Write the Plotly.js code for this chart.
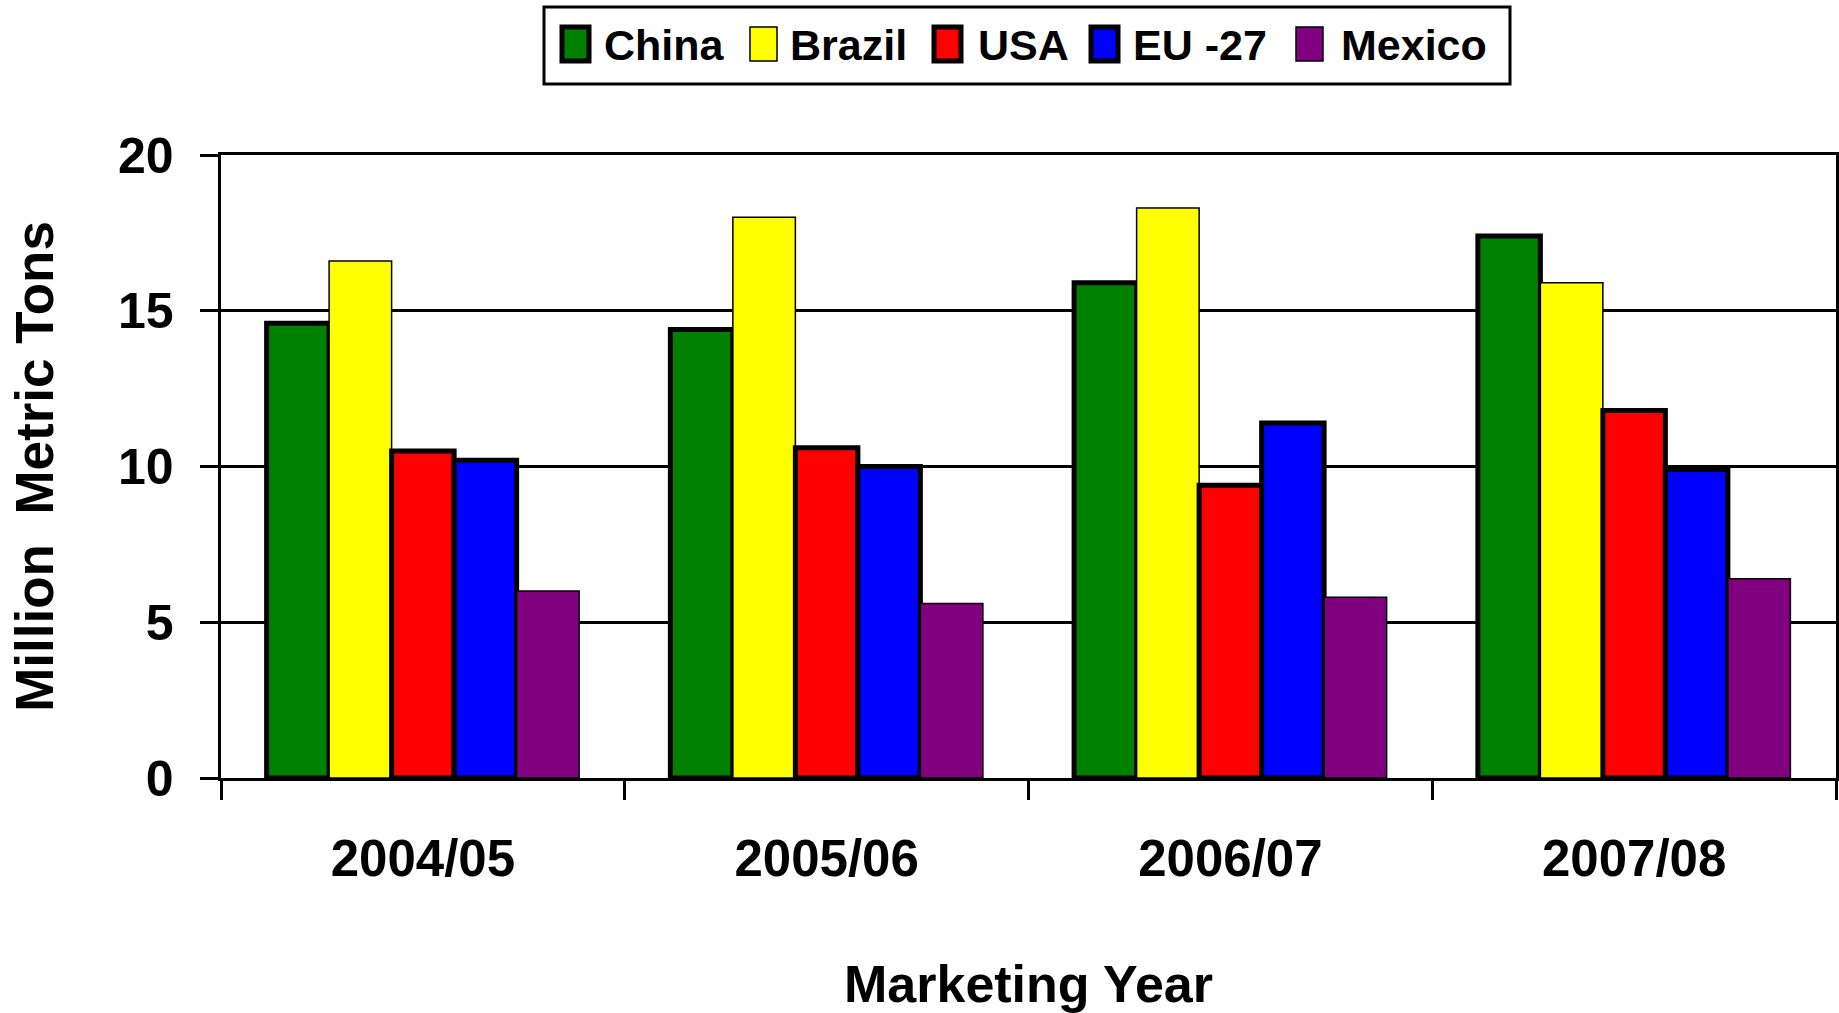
<!DOCTYPE html>
<html>
<head>
<meta charset="utf-8">
<script src="https://cdn.plot.ly/plotly-3.0.1.min.js"></script>
<style>
  html, body { margin: 0; padding: 0; background: #ffffff; }
  #chart { width: 1839px; height: 1013px; }
</style>
</head>
<body>
<div id="chart"></div>
<script>
// ---- data ----
const categories = ['2004/05', '2005/06', '2006/07', '2007/08'];
const seriesNames = ['China', 'Brazil', 'USA', 'EU -27', 'Mexico'];
const china  = [14.6, 14.4, 15.9, 17.4];
const brazil = [16.6, 18.0, 18.3, 15.9];
const usa    = [10.5, 10.6, 9.4, 11.8];
const eu27   = [10.2, 10.0, 11.4, 9.9];
const mexico = [6.0, 5.6, 5.8, 6.4];
const yTickValues = [0, 5, 10, 15, 20];
const xAxisTitle = 'Marketing Year';
const yAxisTitle = 'Million  Metric Tons';

// ---- styles ----
const seriesValues = [china, brazil, usa, eu27, mexico];
const seriesColors = ['#008000', '#ffff00', '#ff0000', '#0000ff', '#800080'];
const seriesLineWidths = [5, 1.5, 5, 5, 1.5];
const FONT = 'Liberation Sans, Arial, Helvetica, sans-serif';

const W = 1839, H = 1013;
const M = { l: 221, r: 3, t: 155, b: 235 };
const plotW = W - M.l - M.r, plotH = H - M.t - M.b;
const px2x = p => (p - M.l) / plotW;
const py2y = p => (H - M.b - p) / plotH;

const traces = seriesNames.map((name, i) => ({
  type: 'bar',
  name: name,
  x: categories,
  y: seriesValues[i],
  marker: { color: seriesColors[i], line: { color: '#000000', width: seriesLineWidths[i] } },
  showlegend: false,
  hoverinfo: 'x+y+name'
}));

// custom legend (swatches + labels)
const legendSwatchX = [562, 750, 934, 1091, 1296];
const legendTextX   = [603, 789, 977, 1132, 1340];
const shapes = [{
  type: 'rect', xref: 'paper', yref: 'paper',
  x0: px2x(544), x1: px2x(1510), y0: py2y(84), y1: py2y(7),
  line: { color: '#000000', width: 3 }, fillcolor: '#ffffff'
}];
const annotations = [];
seriesNames.forEach((name, i) => {
  shapes.push({
    type: 'rect', xref: 'paper', yref: 'paper',
    x0: px2x(legendSwatchX[i]), x1: px2x(legendSwatchX[i] + 27),
    y0: py2y(61), y1: py2y(27),
    line: { color: '#000000', width: seriesLineWidths[i] },
    fillcolor: seriesColors[i]
  });
  annotations.push({
    xref: 'paper', yref: 'paper',
    x: px2x(legendTextX[i]), y: py2y(45),
    xanchor: 'left', yanchor: 'middle',
    text: name, showarrow: false,
    borderpad: 0,
    font: { family: FONT, size: 43, color: '#000000', weight: 'bold' }
  });
});

const layout = {
  width: W, height: H,
  margin: M,
  paper_bgcolor: '#ffffff',
  plot_bgcolor: '#ffffff',
  barmode: 'group',
  bargap: 0.226,
  bargroupgap: 0,
  showlegend: false,
  font: { family: FONT, color: '#000000', weight: 'bold' },
  xaxis: {
    type: 'category',
    showline: true, linecolor: '#000000', linewidth: 3, mirror: true,
    ticks: 'outside', tickson: 'boundaries', ticklen: 19, tickwidth: 3, tickcolor: '#000000',
    ticklabelstandoff: 34,
    tickfont: { family: FONT, size: 51, color: '#000000', weight: 'bold' },
    showgrid: false, zeroline: false,
    automargin: false,
    title: { text: xAxisTitle, font: { family: FONT, size: 52, color: '#000000', weight: 'bold' }, standoff: 80 }
  },
  yaxis: {
    range: [0, 20],
    tickvals: yTickValues,
    showline: true, linecolor: '#000000', linewidth: 3.5, mirror: true,
    ticks: 'outside', ticklen: 18, tickwidth: 3, tickcolor: '#000000',
    ticklabelstandoff: 16,
    tickfont: { family: FONT, size: 50, color: '#000000', weight: 'bold' },
    showgrid: true, gridcolor: '#000000', gridwidth: 3,
    zeroline: false,
    automargin: false,
    title: { text: yAxisTitle, font: { family: FONT, size: 53, color: '#000000', weight: 'bold' }, standoff: 48 }
  },
  shapes: shapes,
  annotations: annotations
};

Plotly.newPlot('chart', traces, layout, { displayModeBar: false, staticPlot: true });
</script>
</body>
</html>
